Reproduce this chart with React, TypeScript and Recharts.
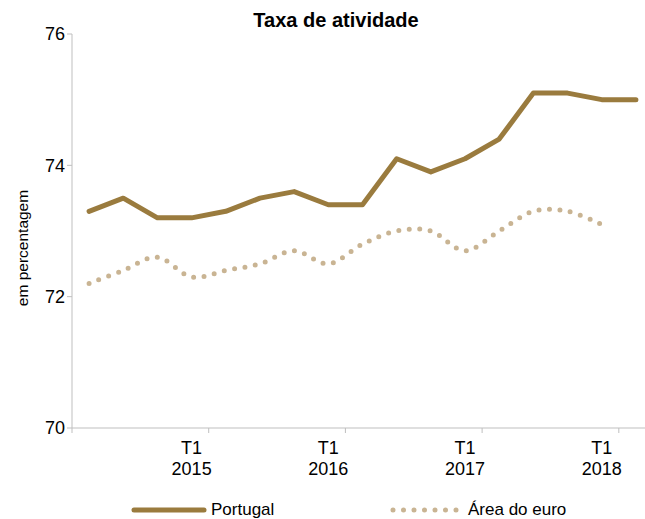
import React from "react";
import { LineChart, Line, XAxis, YAxis, Legend, Label } from "recharts";

const quarters = [
  "T2 2014", "T3 2014", "T4 2014",
  "T1 2015", "T2 2015", "T3 2015", "T4 2015",
  "T1 2016", "T2 2016", "T3 2016", "T4 2016",
  "T1 2017", "T2 2017", "T3 2017", "T4 2017",
  "T1 2018", "T2 2018",
];
const portugal = [73.3, 73.5, 73.2, 73.2, 73.3, 73.5, 73.6, 73.4, 73.4, 74.1, 73.9, 74.1, 74.4, 75.1, 75.1, 75.0, 75.0];
const areaEuro = [72.2, 72.4, 72.6, 72.3, 72.4, 72.5, 72.7, 72.5, 72.8, 73.0, 73.0, 72.7, 73.0, 73.3, 73.3, 73.1, null];
const yTicks = [70, 72, 74, 76];
const seriesNames = ["Portugal", "Área do euro"];
const title = "Taxa de atividade";
const yLabel = "em percentagem";

const PT_COLOR = "#9a7b3e";
const EU_COLOR = "#c9b493";
const AXIS_COLOR = "#bfbfbf";
const FONT = "'Liberation Sans', Arial, sans-serif";

const data = quarters.map((q, i) => ({ pos: i + 0.5, q, portugal: portugal[i], euro: areaEuro[i] }));
const labelTicks = quarters.map((q, i) => (q.startsWith("T1") ? i + 0.5 : -1)).filter((v) => v >= 0);
const boundaryTicks = quarters.map((q, i) => (q.startsWith("T2") ? i : -1)).filter((v) => v >= 0);
const xTicks = [...boundaryTicks, ...labelTicks].sort((a, b) => a - b);

// Catmull-Rom style smoothing (like a spreadsheet "smoothed line")
const smoothCurve = (context: any) => {
  let pts: number[][] = [];
  return {
    areaStart() {},
    areaEnd() {},
    lineStart() {
      pts = [];
    },
    point(x: number, y: number) {
      pts.push([+x, +y]);
    },
    lineEnd() {
      const n = pts.length;
      if (!n) return;
      context.moveTo(pts[0][0], pts[0][1]);
      for (let i = 0; i < n - 1; i++) {
        const p0 = pts[Math.max(i - 1, 0)];
        const p1 = pts[i];
        const p2 = pts[i + 1];
        const p3 = pts[Math.min(i + 2, n - 1)];
        const c1x = p1[0] + (p2[0] - p0[0]) / 6;
        const c1y = p1[1] + (p2[1] - p0[1]) / 6;
        const c2x = p2[0] - (p3[0] - p1[0]) / 6;
        const c2y = p2[1] - (p3[1] - p1[1]) / 6;
        context.bezierCurveTo(c1x, c1y, c2x, c2y, p2[0], p2[1]);
      }
    },
  };
};

const XTick = (props: any) => {
  const { x, y, payload } = props;
  const v = payload.value;
  if (Number.isInteger(v)) {
    return <line x1={x} x2={x} y1={y} y2={y + 5} stroke={AXIS_COLOR} strokeWidth={1} />;
  }
  const q = quarters[Math.floor(v)];
  const [a, b] = q.split(" ");
  return (
    <text x={x} y={y} textAnchor="middle" fontSize={18} fill="#000" fontFamily={FONT}>
      <tspan x={x} dy={26}>{a}</tspan>
      <tspan x={x} dy={21}>{b}</tspan>
    </text>
  );
};

const YLabel = (props: any) => {
  const vb = props.viewBox || { x: 0, y: 34, width: 72, height: 394 };
  const cx = vb.x + 22;
  const cy = vb.y + vb.height / 2 + 17;
  return (
    <text x={cx} y={cy} transform={`rotate(-90 ${cx} ${cy})`} textAnchor="middle" dominantBaseline="central" fontSize={15.5} fill="#000" fontFamily={FONT}>
      {yLabel}
    </text>
  );
};

const LegendContent = () => (
  <div style={{ position: "relative", height: 24, fontFamily: FONT, fontSize: 17, color: "#000" }}>
    <div style={{ position: "absolute", left: 131, top: 0, display: "flex", alignItems: "center", height: 24 }}>
      <svg width={76} height={10}>
        <line x1={3} x2={73} y1={5} y2={5} stroke={PT_COLOR} strokeWidth={5} strokeLinecap="round" />
      </svg>
      <span style={{ marginLeft: 4 }}>{seriesNames[0]}</span>
    </div>
    <div style={{ position: "absolute", left: 389, top: 0, display: "flex", alignItems: "center", height: 24 }}>
      <svg width={76} height={10}>
        <line x1={4} x2={72} y1={5} y2={5} stroke={EU_COLOR} strokeWidth={5} strokeLinecap="round" strokeDasharray="0 10.5" />
      </svg>
      <span style={{ marginLeft: 3 }}>{seriesNames[1]}</span>
    </div>
  </div>
);

export default function App() {
  return (
    <div style={{ position: "absolute", left: 0, top: 0, width: 645, height: 519, overflow: "hidden", background: "#fff" }}>
      <div
        style={{
          position: "absolute", left: 0, top: 9, width: 672, textAlign: "center",
          fontFamily: "'Liberation Sans Narrow', 'Arial Narrow', 'Liberation Sans', Arial, sans-serif",
          fontWeight: "bold", fontSize: 20, lineHeight: "22px", color: "#000",
        }}
      >
        {title}
      </div>
      <LineChart width={660} height={519} data={data} margin={{ top: 34, right: 7, bottom: 61, left: 0 }}>
        <XAxis
          dataKey="pos"
          type="number"
          domain={[0, quarters.length]}
          ticks={xTicks}
          interval={0}
          tick={<XTick />}
          tickLine={false}
          tickSize={0}
          tickMargin={0}
          height={30}
          axisLine={{ stroke: AXIS_COLOR, strokeWidth: 1 }}
          allowDecimals
        />
        <YAxis
          domain={[70, 76]}
          ticks={yTicks}
          width={72}
          tickSize={5}
          tickMargin={2}
          interval={0}
          axisLine={{ stroke: AXIS_COLOR, strokeWidth: 1 }}
          tickLine={{ stroke: AXIS_COLOR, strokeWidth: 1 }}
          tick={{ fontSize: 18, fill: "#000", fontFamily: FONT }}
        >
          <Label content={<YLabel />} />
        </YAxis>
        <Line
          dataKey="euro"
          type={smoothCurve as any}
          stroke={EU_COLOR}
          strokeWidth={5}
          strokeLinecap="round"
          strokeDasharray="0 10.5"
          dot={false}
          activeDot={false}
          connectNulls={false}
          isAnimationActive={false}
        />
        <Line
          dataKey="portugal"
          type="linear"
          stroke={PT_COLOR}
          strokeWidth={5}
          strokeLinecap="round"
          strokeLinejoin="round"
          dot={false}
          activeDot={false}
          isAnimationActive={false}
        />
        <Legend
          layout="horizontal"
          verticalAlign="middle"
          align="center"
          content={<LegendContent />}
          wrapperStyle={{ position: "absolute", left: 0, top: 498, width: 645, height: 24 }}
        />
      </LineChart>
    </div>
  );
}
